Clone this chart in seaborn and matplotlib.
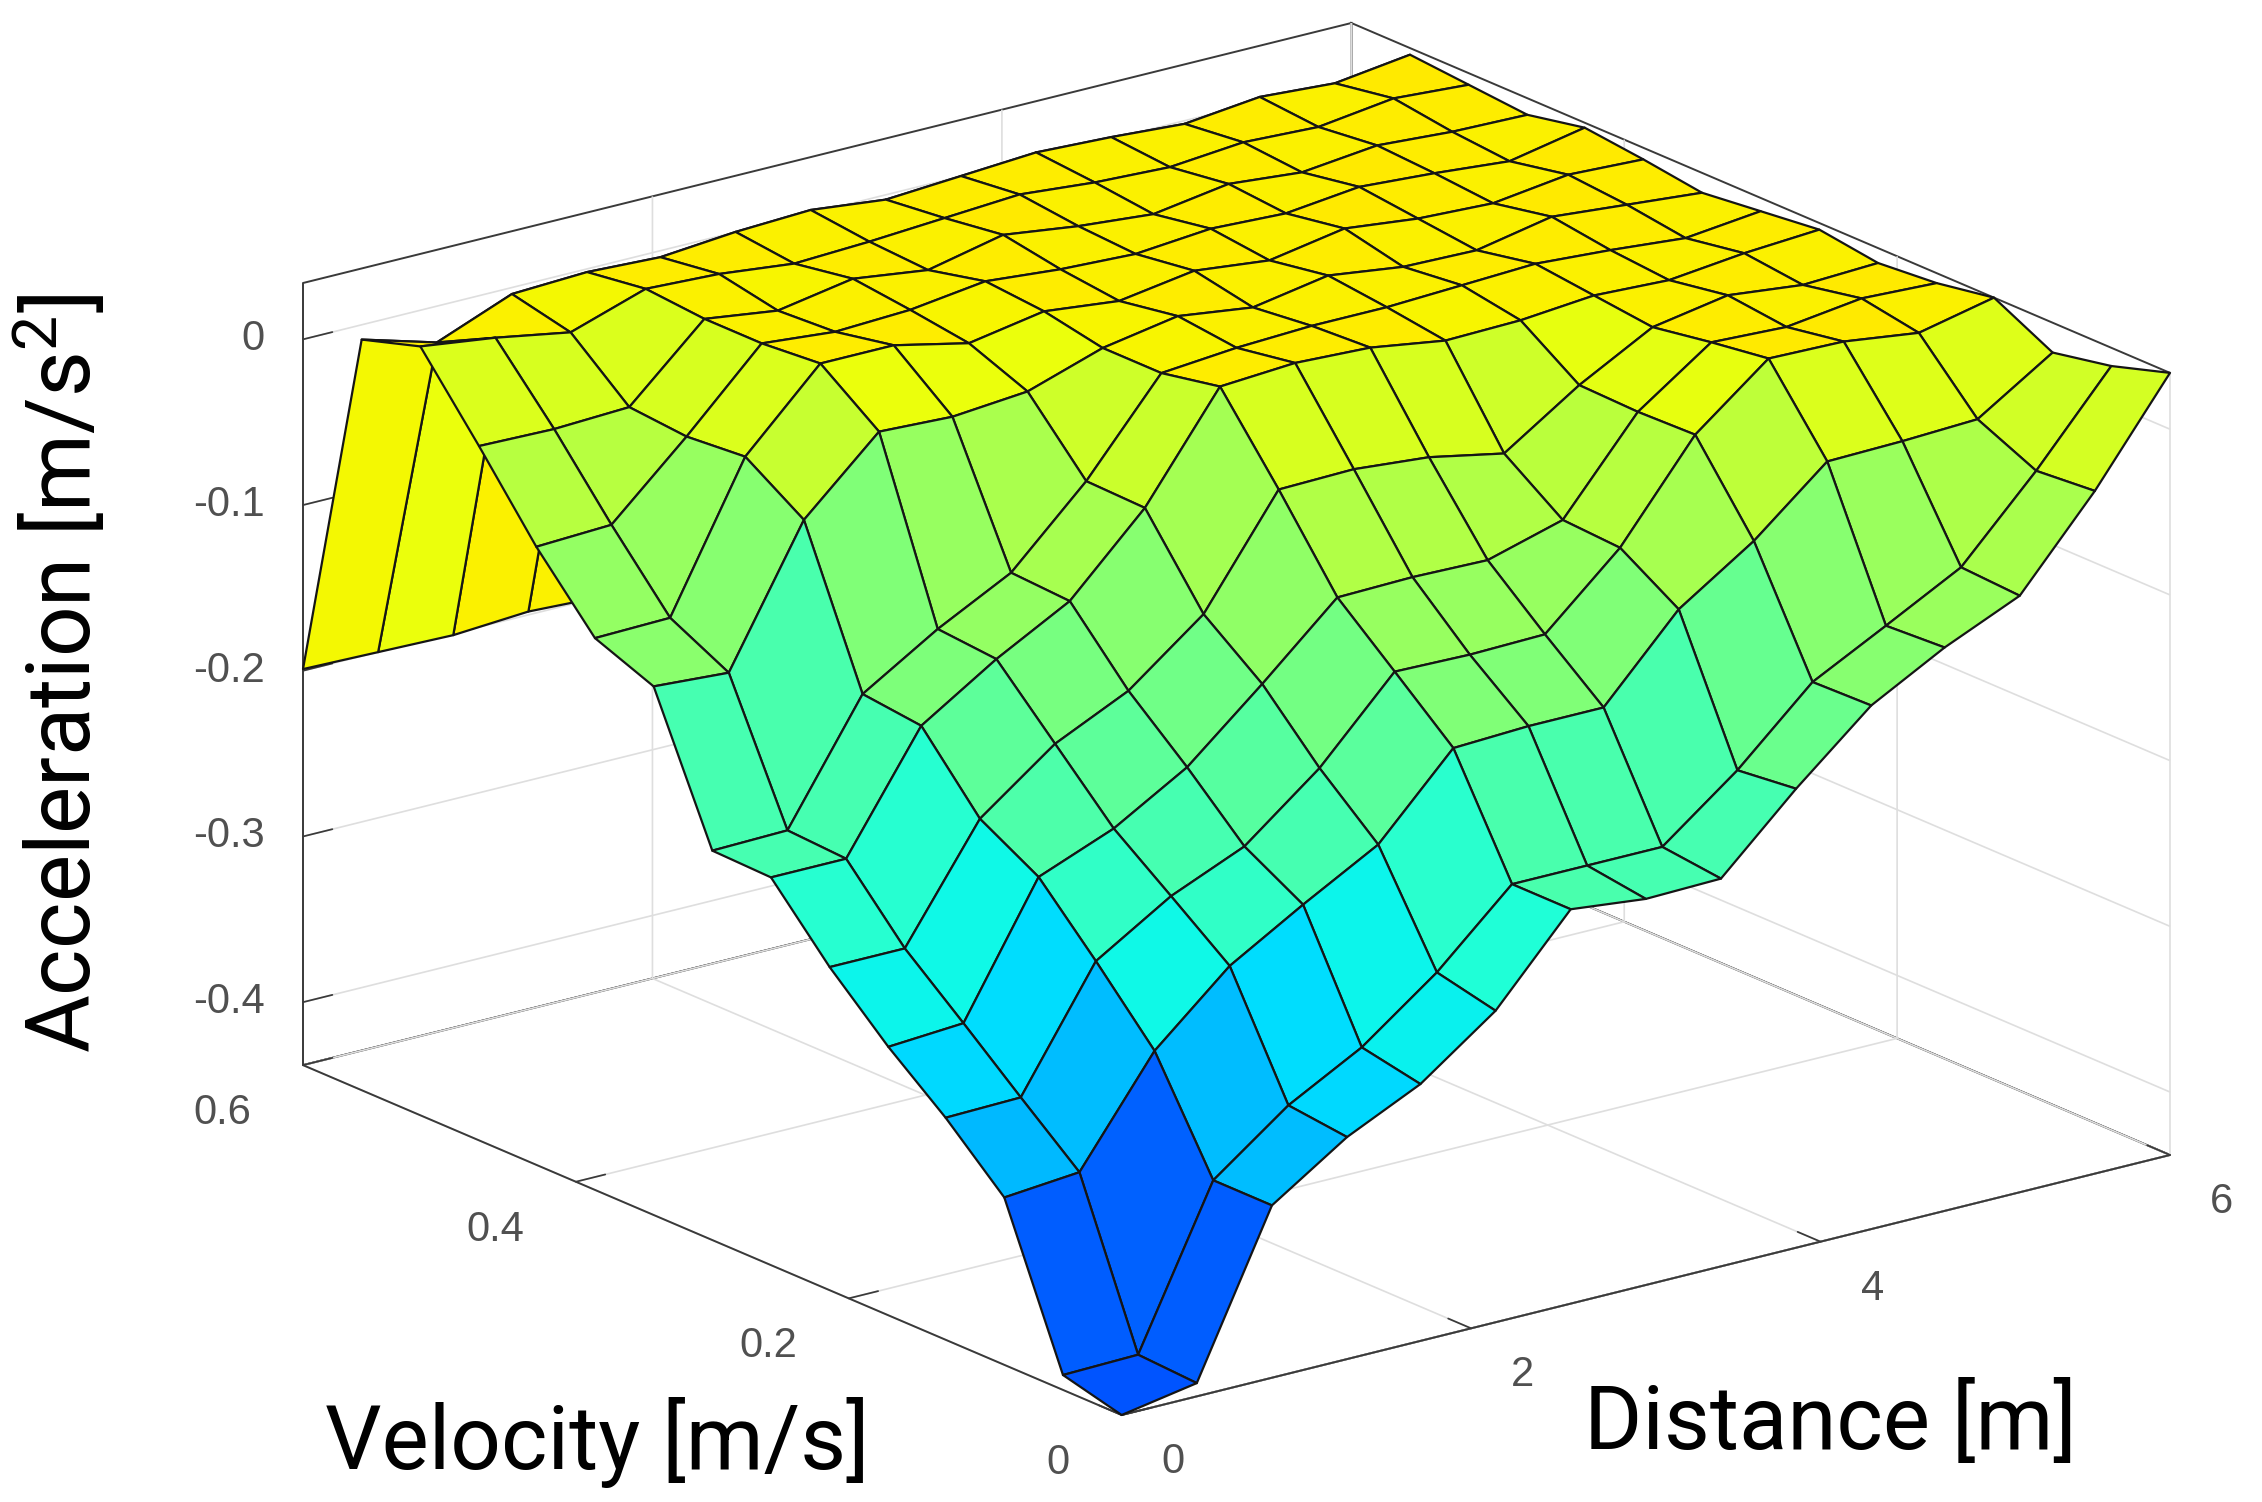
import numpy as np
import matplotlib
matplotlib.use('Agg')
import matplotlib.pyplot as plt
from matplotlib.colors import ListedColormap, Normalize
from mpl_toolkits.mplot3d import proj3d
import seaborn as sns

sns.set_theme(style='white')
plt.rcParams['font.family'] = ['Roboto', 'DejaVu Sans']
plt.rcParams['mathtext.default'] = 'regular'

# grid
distance = [0.0, 0.43, 0.86, 1.29, 1.71, 2.14, 2.57, 3.0, 3.43, 3.86, 4.29, 4.71, 5.14, 5.57, 6.0]
velocity = [0.0, 0.043, 0.086, 0.129, 0.171, 0.214, 0.257, 0.3, 0.343, 0.386, 0.429, 0.471, 0.514, 0.557, 0.6]

# acceleration, one list per distance value (going along velocity)
accel_by_distance = [
    [-0.438, -0.429, -0.337, -0.304, -0.276, -0.243, -0.204, -0.203, -0.119, -0.105, -0.065, -0.019, 0.026, 0.015, -0.199],
    [-0.430, -0.428, -0.333, -0.303, -0.273, -0.243, -0.204, -0.202, -0.122, -0.104, -0.063, -0.020, 0.020, 0.002, -0.200],
    [-0.334, -0.334, -0.271, -0.232, -0.196, -0.176, -0.135, -0.131, -0.041, -0.018, -0.021, -0.018, 0.012, 0.020, -0.201],
    [-0.304, -0.300, -0.231, -0.204, -0.178, -0.142, -0.106, -0.103, 0.001, 0.027, 0.024, 0.024, 0.027, 0.022, -0.198],
    [-0.283, -0.276, -0.205, -0.185, -0.152, -0.121, -0.082, -0.080, -0.001, 0.027, 0.020, 0.018, 0.025, 0.020, -0.200],
    [-0.250, -0.242, -0.180, -0.149, -0.113, -0.086, -0.037, -0.036, 0.003, 0.017, 0.022, 0.026, 0.020, 0.024, -0.200],
    [-0.200, -0.200, -0.133, -0.102, -0.072, -0.022, 0.025, 0.018, 0.018, 0.025, 0.028, 0.020, 0.022, 0.026, -0.200],
    [-0.205, -0.200, -0.131, -0.103, -0.071, -0.021, 0.028, 0.022, 0.026, 0.020, 0.024, 0.030, 0.025, 0.021, -0.200],
    [-0.204, -0.200, -0.131, -0.102, -0.072, -0.025, 0.026, 0.024, 0.020, 0.027, 0.022, 0.024, 0.028, 0.024, -0.200],
    [-0.161, -0.165, -0.083, -0.061, -0.059, -0.034, 0.019, 0.024, 0.028, 0.022, 0.026, 0.020, 0.024, 0.027, -0.200],
    [-0.122, -0.123, -0.053, -0.004, -0.005, -0.004, 0.020, 0.026, 0.022, 0.030, 0.024, 0.027, 0.022, 0.025, -0.200],
    [-0.098, -0.100, -0.016, 0.031, 0.026, 0.020, 0.024, 0.028, 0.021, 0.025, 0.029, 0.023, 0.026, 0.022, -0.200],
    [-0.078, -0.076, -0.015, 0.030, 0.024, 0.028, 0.022, 0.025, 0.030, 0.023, 0.026, 0.028, 0.024, 0.027, -0.200],
    [-0.026, -0.029, -0.013, 0.024, 0.030, 0.023, 0.027, 0.021, 0.026, 0.029, 0.022, 0.025, 0.030, 0.024, -0.200],
    [0.034, 0.023, 0.016, 0.034, 0.028, 0.025, 0.030, 0.026, 0.022, 0.027, 0.031, 0.024, 0.027, 0.030, -0.200],
]

d_ticks = [0, 2, 4, 6]
d_tick_labels = ['0', '2', '4', '6']
v_ticks = [0, 0.2, 0.4, 0.6]
v_tick_labels = ['0', '0.2', '0.4', '0.6']
z_ticks = [-0.4, -0.3, -0.2, -0.1, 0]
z_tick_labels = ['-0.4', '-0.3', '-0.2', '-0.1', '0']

D, V = np.meshgrid(distance, velocity)
Z = np.array(accel_by_distance).T

jet = matplotlib.colormaps['jet']
cmap = ListedColormap(jet(np.linspace(0.21, 0.665, 256)))
norm = Normalize(Z.min(), Z.max())
face_colors = cmap(norm(Z))

W, H = 2262, 1502
fig = plt.figure(figsize=(W / 100, H / 100), dpi=100)
side = 0.8
ax = fig.add_axes([0.1, 0.05, side, side * W / H], projection='3d')

ax.plot_surface(D, V, Z, facecolors=face_colors, rstride=1, cstride=1,
                shade=False, edgecolor='#151515', linewidth=1.6, antialiased=True)

ax.set_proj_type('ortho')
ax.view_init(elev=19, azim=-127.3)
ax.set_box_aspect((1316, 1349, 826))
ax.set_xlim(0, 6)
ax.set_ylim(0, 0.6)
ax.set_zlim(Z.min(), Z.max())

ax.set_xticks(d_ticks)
ax.set_yticks(v_ticks)
ax.set_zticks(z_ticks)
ax.set_xticklabels([])
ax.set_yticklabels([])
ax.set_zticklabels([])

for axis in (ax.xaxis, ax.yaxis, ax.zaxis):
    axis.set_pane_color((1, 1, 1, 1))
    axis.pane.set_edgecolor('#3a3a3a')
    axis.pane.set_linewidth(1.4)
    axis.line.set_color('#3a3a3a')
    axis.line.set_linewidth(1.4)
    axis._axinfo['grid'].update(color='#dedede', linewidth=1.2)
    axis._axinfo['tick'].update(inward_factor=0.0, outward_factor=0.35)
ax.tick_params(colors='#3a3a3a')
ax.grid(True)

# fit projected box onto the reference frame
def corner_pixels():
    M = ax.get_proj()
    out = []
    for cx in (0, 6):
        for cy in (0, 0.6):
            for cz in (Z.min(), Z.max()):
                xs, ys, _ = proj3d.proj_transform(cx, cy, cz, M)
                out.append(ax.transData.transform((xs, ys)))
    return np.array(out)

fig.canvas.draw()
pts = corner_pixels()
px0, px1 = pts[:, 0].min(), pts[:, 0].max()
py0 = pts[:, 1].min()
target_x0, target_x1, target_bottom = 303, 2170, H - 1415
s = (target_x1 - target_x0) / (px1 - px0)
pos = ax.get_position()
ax_x0, ax_y0 = pos.x0 * W, pos.y0 * H
new_x0 = target_x0 - (px0 - ax_x0) * s
new_y0 = target_bottom - (py0 - ax_y0) * s
ax.set_position([new_x0 / W, new_y0 / H, pos.width * s, pos.height * s])
fig.canvas.draw()

# tick labels placed next to the projected tick positions
M = ax.get_proj()
def project(x, y, z):
    xs, ys, _ = proj3d.proj_transform(x, y, z, M)
    return ax.transData.transform((xs, ys))

tick_font = dict(fontsize=30, color='#505050', fontfamily=['Liberation Sans', 'DejaVu Sans'])
zmin = Z.min()
for val, lab in zip(z_ticks, z_tick_labels):
    px, py = project(0, 0.6, val)
    fig.text((px - 38) / W, py / H, lab, ha='right', va='center', **tick_font)
for val, lab in zip(v_ticks, v_tick_labels):
    px, py = project(0, val, zmin)
    fig.text((px - 52) / W, (py - 48) / H, lab, ha='right', va='center', **tick_font)
for val, lab in zip(d_ticks, d_tick_labels):
    px, py = project(val, 0, zmin)
    fig.text((px + 40) / W, (py - 47) / H, lab, ha='left', va='center', **tick_font)

label_font = dict(fontsize=64, color='black', fontfamily=['Roboto', 'DejaVu Sans'])
fig.text(61 / W, 1 - 674 / H, 'Acceleration [m/s$^2$]', rotation=90,
         ha='center', va='center', **label_font)
fig.text(597 / W, 1 - 1443 / H, 'Velocity [m/s]', ha='center', va='center', **label_font)
fig.text(1830 / W, 1 - 1424 / H, 'Distance [m]', ha='center', va='center', **label_font)

fig.savefig('out.png', dpi=100)
